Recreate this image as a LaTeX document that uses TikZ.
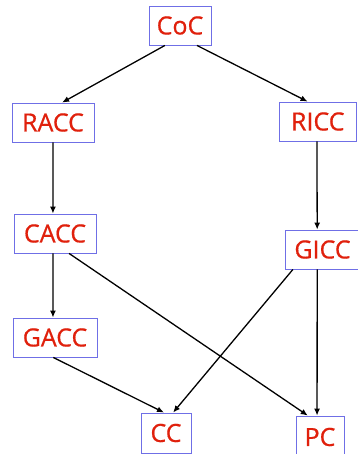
\documentclass[tikz,border=0pt]{standalone}
\usepackage{fontspec}
\setmainfont{Open Sans}
\newfontfamily\boxfont[FakeBold=0.6]{Open Sans}
\usetikzlibrary{calc,arrows.meta}
\definecolor{boxblue}{HTML}{6F6FE6}
\definecolor{txtred}{HTML}{E0200C}
\tikzset{
  cbox/.style={draw=boxblue, line width=0.9pt, fill=white, inner sep=0pt,
    font=\boxfont\fontsize{25}{28}\selectfont, text=txtred},
  conn/.style={-{Latex[length=7pt,width=6pt]}, line width=1.3pt, black}
}
\newcommand{\mybox}[6]{% name, x1, y1, x2, y2, text
  \node[cbox, minimum width=#4pt-#2pt, minimum height=#5pt-#3pt] (#1) at ({(#2+#4)/2},{(#3+#5)/2}) {#6};}
\begin{document}
\begin{tikzpicture}[x=1pt,y=-1pt]
\useasboundingbox (0,0) rectangle (357,454);
\fill[white] (0,0) rectangle (357,454);
\mybox{CoC}{149}{6}{211}{45}{CoC}
\mybox{RACC}{12}{103}{94}{142}{RACC}
\mybox{RICC}{279}{102}{356.5}{141}{RICC}
\mybox{CACC}{14}{214}{96}{253}{CACC}
\mybox{GICC}{285}{230}{360}{269}{GICC}
\mybox{GACC}{13}{318}{97}{357}{GACC}
\mybox{CC}{141}{413}{191}{453}{CC}
\mybox{PC}{296}{416}{344}{458}{PC}
\draw[conn] ($(CoC.south west)!0.26!(CoC.south east)$) -- ($(RACC.north west)!0.61!(RACC.north east)$);
\draw[conn] ($(CoC.south west)!0.77!(CoC.south east)$) -- ($(RICC.north west)!0.37!(RICC.north east)$);
\draw[conn] ($(RACC.south west)!0.5!(RACC.south east)$) -- ($(CACC.north west)!0.475!(CACC.north east)$);
\draw[conn] ($(RICC.south west)!0.49!(RICC.south east)$) -- ($(GICC.north west)!0.43!(GICC.north east)$);
\draw[conn] ($(CACC.south west)!0.475!(CACC.south east)$) -- ($(GACC.north west)!0.476!(GACC.north east)$);
\draw[conn] ($(CACC.south west)!0.67!(CACC.south east)$) -- ($(PC.north west)!0.25!(PC.north east)$);
\draw[conn] ($(GACC.south west)!0.48!(GACC.south east)$) -- ($(CC.north west)!0.46!(CC.north east)$);
\draw[conn] ($(GICC.south west)!0.11!(GICC.south east)$) -- ($(CC.north west)!0.64!(CC.north east)$);
\draw[conn] ($(GICC.south west)!0.43!(GICC.south east)$) -- ($(PC.north west)!0.44!(PC.north east)$);
\end{tikzpicture}
\end{document}
